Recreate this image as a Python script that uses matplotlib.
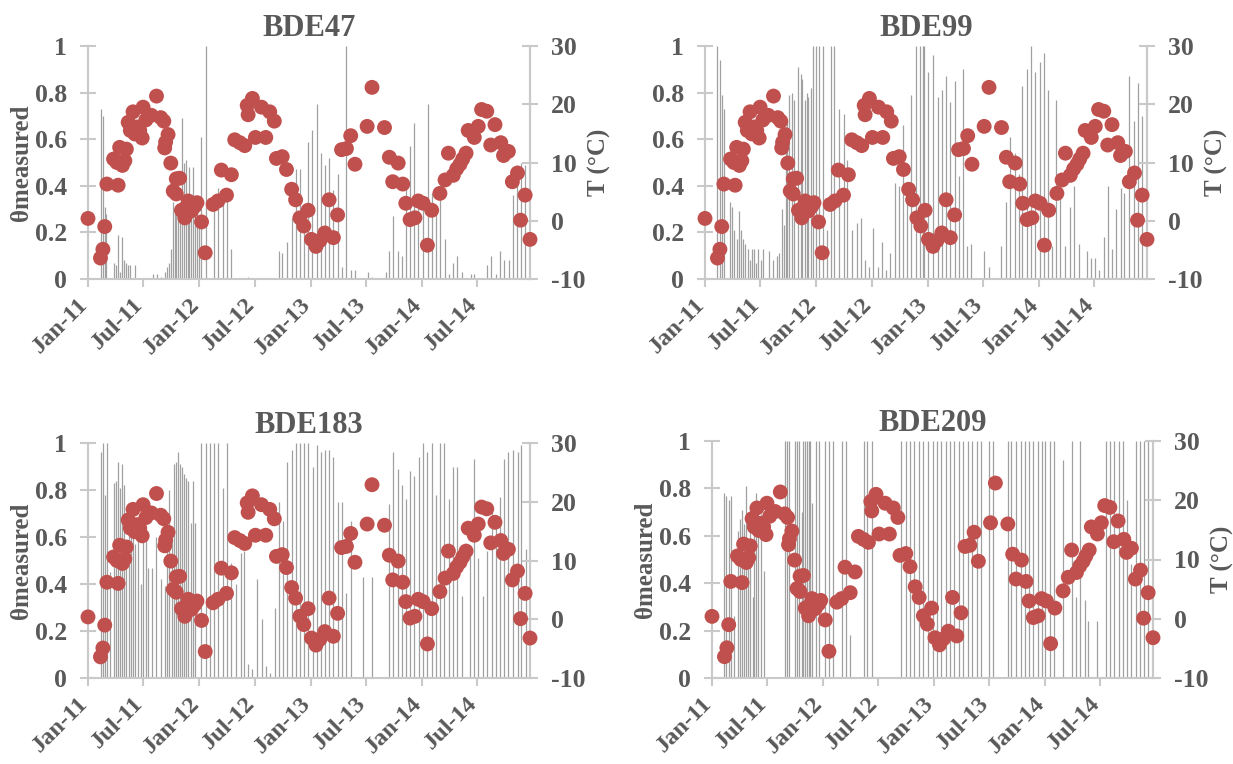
import matplotlib
matplotlib.use("Agg")
import matplotlib.pyplot as plt
import matplotlib.transforms as mtransforms
import pandas as pd

# ---------------- data ----------------
start_date = "2011-01-01"

titles = ["BDE47", "BDE99", "BDE183", "BDE209"]
xtick_labels = ["Jan-11", "Jul-11", "Jan-12", "Jul-12", "Jan-13", "Jul-13", "Jan-14", "Jul-14"]
xtick_dates = ["2011-01-01", "2011-07-01", "2012-01-01", "2012-07-01",
               "2013-01-01", "2013-07-01", "2014-01-01", "2014-07-01"]

# temperature (days since start, deg C)
temp_days = [0, 41, 49, 55, 62, 84, 95, 99, 104, 113,
             121, 126, 132, 139, 148, 154, 161, 170, 178, 181,
             190, 208, 225, 239, 249, 252, 255, 263, 272, 280,
             290, 290, 301, 307, 318, 323, 329, 340, 351, 358,
             373, 385, 411, 427, 438, 455, 471, 482, 499, 515,
             523, 526, 540, 550, 570, 584, 597, 612, 619, 638,
             652, 669, 682, 696, 709, 723, 734, 749, 762, 778,
             792, 806, 820, 833, 849, 863, 877, 917, 933, 974,
             990, 1001, 1019, 1034, 1044, 1058, 1074, 1085, 1101, 1115,
             1129, 1156, 1173, 1184, 1200, 1211, 1222, 1231, 1242, 1249,
             1269, 1282, 1293, 1310, 1323, 1337, 1356, 1365, 1381, 1394,
             1411, 1421, 1436, 1452]
temp_vals = [0.4, -6.4, -4.9, -1.0, 6.3, 10.6, 10.0, 6.1, 12.6, 9.5,
             10.3, 12.3, 16.9, 15.5, 18.7, 14.9, 16.1, 15.5, 14.2, 19.5,
             17.3, 18.1, 21.4, 17.7, 17.1, 12.5, 13.5, 14.8, 9.9, 5.1,
             7.2, 4.6, 7.3, 1.8, 0.5, 2.3, 3.4, 1.7, 2.5, 3.1,
             -0.2, -5.5, 2.8, 3.4, 8.7, 4.4, 7.9, 13.9, 13.4, 12.9,
             19.8, 18.2, 21.0, 14.3, 19.5, 14.3, 18.7, 17.1, 10.7, 11.0,
             8.8, 5.4, 3.6, 0.5, -0.9, 1.8, -3.2, -4.4, -3.4, -2.1,
             3.6, -2.9, 1.0, 12.2, 12.4, 14.6, 9.7, 16.2, 22.9, 16.0,
             10.9, 6.7, 9.9, 6.3, 3.0, 0.2, 0.5, 3.4, 3.0, -4.2,
             1.8, 4.7, 7.0, 11.6, 7.8, 8.9, 9.7, 10.6, 11.6, 15.5,
             14.3, 16.2, 19.1, 18.8, 13.0, 16.5, 13.4, 11.2, 11.9, 6.7,
             8.2, 0.1, 4.4, -3.2]

# theta measured (days since start, value)
bde47_days = [44, 49, 55, 60, 85, 91, 99, 104, 112, 118,
              126, 132, 137, 153, 212, 227, 239, 254, 260, 266,
              274, 279, 285, 290, 296, 301, 309, 316, 321, 327,
              332, 340, 345, 351, 358, 365, 372, 386, 414, 427,
              444, 458, 471, 526, 626, 638, 655, 669, 682, 696,
              709, 723, 737, 751, 765, 780, 792, 806, 820, 835,
              847, 863, 877, 921, 934, 978, 990, 1003, 1017, 1031,
              1044, 1058, 1072, 1085, 1101, 1116, 1131, 1143, 1156, 1173,
              1187, 1200, 1213, 1228, 1257, 1269, 1312, 1325, 1340, 1354,
              1368, 1383, 1397, 1408, 1423, 1434]
bde47_vals = [0.73, 0.70, 0.31, 0.28, 0.07, 0.06, 0.19, 0.03, 0.18, 0.08,
              0.07, 0.06, 0.06, 0.06, 0.02, 0.02, 0.01, 0.03, 0.05, 0.07,
              0.13, 0.33, 0.29, 0.31, 0.31, 0.33, 0.69, 0.50, 0.51, 0.35,
              0.48, 0.33, 0.48, 0.31, 0.34, 0.22, 0.61, 1.0, 0.32, 0.39,
              0.32, 0.39, 0.13, 0.01, 0.12, 0.11, 0.16, 0.26, 0.47, 0.47,
              0.29, 0.59, 0.64, 0.75, 0.54, 0.49, 0.52, 0.38, 0.45, 0.05,
              1.0, 0.04, 0.04, 0.03, 0.01, 0.03, 0.12, 0.27, 0.12, 0.10,
              0.39, 0.57, 0.67, 0.32, 0.32, 0.75, 0.37, 0.28, 0.36, 0.17,
              0.02, 0.07, 0.10, 0.03, 0.02, 0.02, 0.06, 0.10, 0.02, 0.12,
              0.08, 0.08, 0.36, 0.44, 0.50, 0.49]

bde99_days = [41, 49, 55, 62, 82, 90, 96, 104, 112, 118,
              126, 133, 140, 148, 156, 162, 168, 175, 183, 190,
              210, 225, 238, 244, 252, 258, 265, 271, 277, 285,
              292, 307, 314, 320, 327, 334, 340, 349, 356, 364,
              373, 387, 400, 413, 425, 441, 455, 468, 484, 499,
              512, 526, 539, 553, 567, 581, 594, 608, 623, 636,
              652, 665, 677, 694, 707, 715, 721, 734, 749, 764,
              778, 791, 806, 820, 834, 847, 860, 874, 918, 932,
              973, 989, 1003, 1017, 1030, 1043, 1058, 1072, 1085, 1099,
              1112, 1127, 1140, 1154, 1167, 1181, 1198, 1211, 1228, 1255,
              1269, 1282, 1295, 1310, 1323, 1337, 1351, 1365, 1378, 1392,
              1408, 1422, 1436]
bde99_vals = [1.0, 0.94, 0.79, 0.73, 0.33, 0.31, 0.21, 0.17, 0.29, 0.21,
              0.17, 0.15, 0.13, 0.08, 0.13, 0.13, 0.07, 0.13, 0.08, 0.13,
              0.12, 0.08, 0.10, 0.11, 0.30, 0.23, 0.63, 0.68, 0.79, 0.80,
              0.77, 0.91, 0.88, 0.86, 0.77, 0.80, 0.78, 0.82, 1.0, 1.0,
              1.0, 1.0, 0.21, 1.0, 1.0, 0.73, 0.71, 0.51, 0.21, 0.24,
              0.26, 0.08, 0.05, 0.22, 0.05, 0.16, 0.04, 0.11, 0.41, 0.40,
              0.66, 0.40, 0.79, 1.0, 1.0, 1.0, 1.0, 0.89, 0.96, 0.78,
              0.81, 0.87, 0.76, 0.85, 0.44, 0.90, 0.14, 0.15, 0.12, 0.05,
              0.14, 0.33, 0.61, 0.54, 0.45, 0.83, 0.90, 1.0, 0.89, 0.93,
              0.97, 0.81, 0.14, 0.77, 0.43, 0.14, 0.31, 0.40, 0.15, 0.12,
              0.09, 0.09, 0.04, 0.18, 0.40, 0.13, 0.30, 0.39, 0.37, 0.87,
              0.68, 0.84, 0.70]

bde183_days = [44, 49, 55, 64, 71, 85, 91, 99, 104, 112,
               118, 126, 134, 142, 148, 156, 164, 173, 181, 189,
               197, 210, 225, 241, 252, 260, 266, 275, 282, 288,
               296, 301, 308, 315, 323, 330, 340, 345, 353, 370,
               386, 400, 414, 427, 444, 458, 471, 486, 501, 513,
               526, 540, 556, 570, 584, 597, 614, 628, 641, 654,
               669, 682, 696, 709, 723, 738, 751, 764, 778, 792,
               806, 820, 835, 849, 863, 904, 934, 990, 1003, 1017,
               1030, 1044, 1058, 1072, 1086, 1101, 1115, 1129, 1143, 1156,
               1171, 1187, 1200, 1213, 1228, 1255, 1269, 1282, 1299, 1312,
               1326, 1340, 1354, 1368, 1381, 1397, 1411, 1423, 1438]
bde183_vals = [0.96, 1.0, 0.78, 1.0, 0.45, 0.83, 0.84, 0.92, 0.81, 0.91,
               0.82, 0.47, 0.72, 0.66, 0.69, 0.57, 0.66, 0.40, 0.72, 0.59,
               0.47, 0.47, 0.60, 0.42, 0.39, 0.63, 0.80, 0.59, 0.91, 0.92,
               0.96, 0.91, 0.90, 0.87, 0.85, 0.84, 0.66, 0.84, 0.66, 1.0,
               1.0, 1.0, 1.0, 1.0, 0.81, 1.0, 0.49, 0.40, 0.53, 0.54,
               0.06, 0.04, 0.42, 0.25, 0.05, 0.02, 0.30, 0.75, 0.67, 0.92,
               0.97, 1.0, 1.0, 1.0, 1.0, 0.90, 0.99, 0.96, 0.97, 0.97,
               0.94, 0.75, 0.75, 0.36, 0.67, 0.43, 0.43, 0.74, 0.96, 0.89,
               0.82, 0.76, 0.88, 0.86, 0.94, 1.0, 0.96, 1.0, 0.78, 1.0,
               1.0, 0.76, 0.90, 0.90, 0.35, 0.52, 0.93, 0.51, 0.35, 0.54,
               0.71, 0.65, 0.77, 0.93, 0.96, 0.97, 0.96, 0.99, 0.55]

bde209_days = [41, 47, 55, 62, 71, 85, 93, 99, 104, 112,
               118, 126, 134, 139, 146, 153, 161, 170, 239, 247,
               255, 272, 279, 287, 296, 301, 307, 312, 318, 323,
               329, 342, 353, 373, 384, 400, 427, 441, 455, 499,
               510, 526, 623, 638, 652, 666, 682, 696, 710, 726,
               740, 754, 769, 784, 798, 813, 827, 842, 857, 871,
               885, 913, 926, 973, 986, 1001, 1016, 1030, 1044, 1058,
               1072, 1085, 1098, 1112, 1127, 1156, 1186, 1200, 1213, 1228,
               1238, 1269, 1297, 1310, 1324, 1339, 1354, 1368, 1381, 1397,
               1408, 1422, 1436]
bde209_vals = [0.78, 0.77, 0.75, 0.77, 0.26, 0.62, 0.67, 0.71, 0.65, 0.81,
               0.50, 0.73, 0.34, 0.69, 0.78, 0.72, 0.69, 0.45, 1.0, 1.0,
               1.0, 1.0, 1.0, 1.0, 0.70, 1.0, 1.0, 1.0, 1.0, 1.0,
               0.74, 1.0, 1.0, 1.0, 1.0, 1.0, 1.0, 1.0, 0.18, 1.0,
               1.0, 1.0, 1.0, 1.0, 1.0, 1.0, 1.0, 1.0, 1.0, 1.0,
               1.0, 1.0, 1.0, 1.0, 1.0, 1.0, 1.0, 1.0, 1.0, 1.0,
               1.0, 1.0, 1.0, 1.0, 1.0, 1.0, 1.0, 1.0, 1.0, 1.0,
               1.0, 1.0, 1.0, 1.0, 1.0, 0.92, 1.0, 0.34, 1.0, 0.33,
               0.24, 0.24, 1.0, 1.0, 1.0, 1.0, 1.0, 0.75, 0.48, 1.0,
               1.0, 1.0, 1.0]

theta_days = [bde47_days, bde99_days, bde183_days, bde209_days]
theta_vals = [bde47_vals, bde99_vals, bde183_vals, bde209_vals]

left_ticks = [0, 0.2, 0.4, 0.6, 0.8, 1]
left_ticklabels = ["0", "0.2", "0.4", "0.6", "0.8", "1"]
right_ticks = [-10, 0, 10, 20, 30]

left_label = "θmeasured"
right_label = "T (°C)"
show_left_label = [True, False, True, True]
show_right_label = [True, True, False, True]

# ---------------- style ----------------
TXT = "#595959"
AXC = "#c9c9c9"
BAR = "#a0a0a0"
DOT = "#C0504D"
plt.rcParams["font.family"] = ["Liberation Serif", "DejaVu Serif"]
plt.rcParams["font.weight"] = "bold"
plt.rcParams["axes.unicode_minus"] = False

W, H = 1233, 764
fig = plt.figure(figsize=(W / 100, H / 100), dpi=100)

# axes boxes in pixels: left, right, top, bottom
boxes = [(88, 530, 46, 279), (705, 1147, 46, 279),
         (88, 530, 443, 678), (712, 1153, 441, 678)]
TS = 18.5
XS = 17.5

t0 = pd.Timestamp(start_date)
tdates = t0 + pd.to_timedelta(temp_days, unit="D")
xmin, xmax = tdates.min(), tdates.max()
xt = pd.to_datetime(xtick_dates)
shift = mtransforms.ScaledTranslation(-3 / 100, 0, fig.dpi_scale_trans)

for i, (l, r, t, b) in enumerate(boxes):
    ax = fig.add_axes([l / W, 1 - b / H, (r - l) / W, (b - t) / H])
    d = t0 + pd.to_timedelta(theta_days[i], unit="D")
    ax.vlines(d, 0, theta_vals[i], colors=BAR, linewidth=0.9, zorder=1)
    ax.set_ylim(0, 1)
    ax.set_xlim(xmin, xmax)
    ax.set_yticks(left_ticks)
    ax.set_yticklabels(left_ticklabels)
    ax.set_xticks(xt)
    ax.set_xticklabels(xtick_labels, rotation=45, ha="right", va="center",
                       rotation_mode="anchor")
    ax.spines["top"].set_visible(False)
    for s in ["left", "right", "bottom"]:
        ax.spines[s].set_color(AXC)
        ax.spines[s].set_linewidth(1.5)
    ax.tick_params(axis="y", direction="inout", length=12, width=1.5, color=AXC,
                   labelsize=TS, labelcolor=TXT, pad=9)
    ax.tick_params(axis="x", direction="out", length=6, width=1.5, color=AXC,
                   labelsize=XS, labelcolor=TXT, pad=10)
    for lab in ax.get_xticklabels():
        lab.set_transform(lab.get_transform() + shift)
    if show_left_label[i]:
        ax.set_ylabel(left_label, fontsize=18, color=TXT, fontweight="bold")
        ax.yaxis.set_label_coords(-55 / (r - l), 0.5)
    ax.set_title(titles[i], fontsize=22, color=TXT, fontweight="bold", pad=7)
    for lab in ax.get_xticklabels() + ax.get_yticklabels():
        lab.set_fontweight("bold")

    ax2 = ax.twinx()
    ax2.scatter(tdates, temp_vals, s=115, color=DOT, edgecolors="none",
                zorder=3, clip_on=False)
    ax2.set_ylim(-10, 30)
    ax2.set_yticks(right_ticks)
    ax2.set_xlim(xmin, xmax)
    for s in ["top", "left", "bottom"]:
        ax2.spines[s].set_visible(False)
    ax2.spines["right"].set_color(AXC)
    ax2.spines["right"].set_linewidth(1.5)
    ax2.tick_params(axis="y", direction="inout", length=12, width=1.5, color=AXC,
                    labelsize=TS, labelcolor=TXT, pad=9)
    if show_right_label[i]:
        ax2.set_ylabel(right_label, fontsize=18, color=TXT, fontweight="bold")
        ax2.yaxis.set_label_coords((r + 58 - l) / (r - l), 0.5)
    for lab in ax2.get_yticklabels():
        lab.set_fontweight("bold")

fig.savefig("out.png", dpi=100)
